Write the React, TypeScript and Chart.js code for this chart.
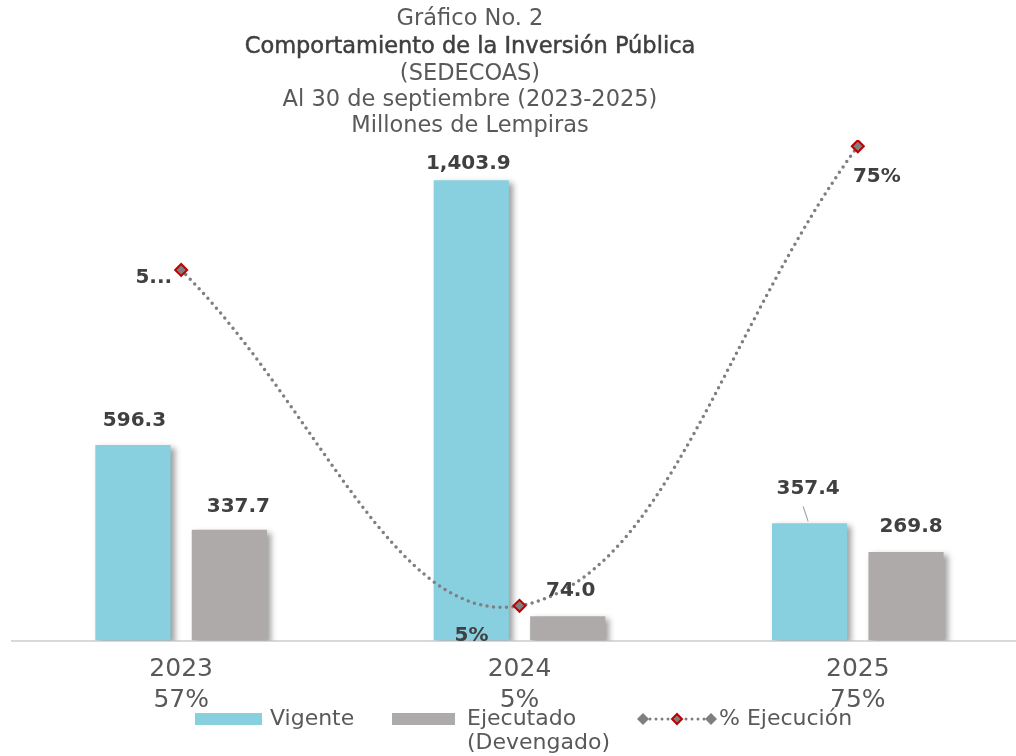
import React, { useEffect, useRef } from 'react';
import { Chart, registerables } from 'chart.js';

Chart.register(...registerables);

// ---------- data ----------
const titleLines = [
  'Gráfico No. 2',
  'Comportamiento de la Inversión Pública',
  '(SEDECOAS)',
  'Al 30 de septiembre (2023-2025)',
  'Millones de Lempiras',
];
const years = ['2023', '2024', '2025'];
const pctTickLabels = ['57%', '5%', '75%'];
const vigente = [596.3, 1403.9, 357.4];
const ejecutado = [337.7, 74.0, 269.8];
const ejecucion = [56.6, 5.3, 75.5];
const ejecucionLabels = ['5...', '5%', '75%'];
const seriesNames = ['Vigente', 'Ejecutado', '(Devengado)', '% Ejecución'];

// ---------- styles ----------
const FONT = '"DejaVu Sans", sans-serif';
const C_VIG = '#88CFDF';
const C_EJE = '#AEAAAA';
const C_LINE = '#7F7F7F';
const C_RED = '#C00000';
const C_TXT = '#595959';
const C_LBL = '#404040';

// label offsets (dx, dy) from bar top / point
const vigOffsets = [[1.5, -24], [-3, -17], [-1.5, -35]];
const ejeOffsets = [[9, -23], [3, -25], [5, -25]];
const lineLblOffsets = [[-9, 8, 'right'], [-48, 30, 'center'], [19, 31, 'center']];

const fmt = (v: number) =>
  v.toLocaleString('en-US', { minimumFractionDigits: 1, maximumFractionDigits: 1 });

const shadowPlugin = {
  id: 'barShadow',
  beforeDatasetDraw(chart: any, args: any) {
    if (args.meta.type !== 'bar') return;
    const ctx = chart.ctx;
    ctx.save();
    ctx.shadowColor = 'rgba(0,0,0,0.38)';
    ctx.shadowBlur = 6;
    ctx.shadowOffsetX = 4;
    ctx.shadowOffsetY = 3;
  },
  afterDatasetDraw(chart: any, args: any) {
    if (args.meta.type !== 'bar') return;
    chart.ctx.restore();
  },
};

function diamond(ctx: CanvasRenderingContext2D, x: number, y: number, r: number, fill: string, stroke?: string) {
  ctx.beginPath();
  ctx.moveTo(x, y - r);
  ctx.lineTo(x + r, y);
  ctx.lineTo(x, y + r);
  ctx.lineTo(x - r, y);
  ctx.closePath();
  ctx.fillStyle = fill;
  ctx.fill();
  if (stroke) {
    ctx.strokeStyle = stroke;
    ctx.lineWidth = 2;
    ctx.stroke();
  }
}

const decorPlugin = {
  id: 'decor',
  afterDatasetsDraw(chart: any) {
    const ctx = chart.ctx as CanvasRenderingContext2D;
    ctx.save();
    ctx.font = `bold 20px ${FONT}`;
    ctx.fillStyle = C_LBL;
    ctx.textBaseline = 'middle';
    ctx.textAlign = 'center';
    const m0 = chart.getDatasetMeta(1);
    const m1 = chart.getDatasetMeta(2);
    m0.data.forEach((b: any, i: number) => {
      ctx.fillText(fmt(vigente[i]), b.x + vigOffsets[i][0], b.y + vigOffsets[i][1]);
    });
    m1.data.forEach((b: any, i: number) => {
      ctx.fillText(fmt(ejecutado[i]), b.x + ejeOffsets[i][0], b.y + ejeOffsets[i][1]);
    });
    // leader line for 2025 Vigente
    const b2 = m0.data[2];
    ctx.beginPath();
    ctx.strokeStyle = '#A6A6A6';
    ctx.lineWidth = 1.2;
    ctx.moveTo(b2.x - 6.5, b2.y - 17);
    ctx.lineTo(b2.x - 1.5, b2.y - 2);
    ctx.stroke();
    // line labels
    const ml = chart.getDatasetMeta(0);
    ml.data.forEach((p: any, i: number) => {
      const o = lineLblOffsets[i] as any;
      ctx.textAlign = o[2];
      ctx.fillStyle = C_LBL;
      ctx.fillText(ejecucionLabels[i], p.x + o[0], p.y + o[1]);
    });
    ctx.restore();
  },
  afterDraw(chart: any) {
    const ctx = chart.ctx as CanvasRenderingContext2D;
    ctx.save();
    // title
    ctx.textAlign = 'center';
    ctx.textBaseline = 'middle';
    const ys = [19, 47, 74, 100, 126];
    titleLines.forEach((t, i) => {
      ctx.font = `22.5px ${FONT}`;
      ctx.fillStyle = i === 1 ? '#3F3F3F' : C_TXT;
      ctx.fillText(t, 470, ys[i]);
      if (i === 1) {
        ctx.strokeStyle = '#3F3F3F';
        ctx.lineWidth = 0.5;
        ctx.strokeText(t, 470, ys[i]);
      }
    });
    // legend
    const ly = 719;
    ctx.textAlign = 'left';
    ctx.font = `22px ${FONT}`;
    ctx.fillStyle = C_VIG;
    ctx.fillRect(195, ly - 6, 67, 12);
    ctx.fillStyle = C_TXT;
    ctx.fillText(seriesNames[0], 270, ly);
    ctx.fillStyle = C_EJE;
    ctx.fillRect(392, ly - 6, 63, 12);
    ctx.fillStyle = C_TXT;
    ctx.fillText(seriesNames[1], 467, ly);
    ctx.fillText(seriesNames[2], 467, ly + 24);
    // line symbol
    ctx.beginPath();
    ctx.setLineDash([0, 6]);
    ctx.lineCap = 'round';
    ctx.lineWidth = 3;
    ctx.strokeStyle = C_LINE;
    ctx.moveTo(644, ly);
    ctx.lineTo(710, ly);
    ctx.stroke();
    ctx.setLineDash([]);
    diamond(ctx, 643, ly, 6, C_LINE);
    diamond(ctx, 677, ly, 5, C_LINE, C_RED);
    diamond(ctx, 711, ly, 6, C_LINE);
    ctx.fillStyle = C_TXT;
    ctx.fillText(seriesNames[3], 719, ly);
    ctx.restore();
  },
};

export default function App() {
  const ref = useRef<HTMLCanvasElement>(null);
  useEffect(() => {
    if (!ref.current) return;
    const chart = new Chart(ref.current, {
      type: 'bar',
      data: {
        labels: years.map((y, i) => [y, pctTickLabels[i]]),
        datasets: [
          {
            type: 'line',
            label: seriesNames[3],
            data: ejecucion,
            yAxisID: 'y1',
            borderColor: C_LINE,
            borderWidth: 3.5,
            borderDash: [0, 6.5],
            borderCapStyle: 'round',
            tension: 0.4,
            pointStyle: 'rectRot',
            pointRadius: 6,
            pointBackgroundColor: C_LINE,
            pointBorderColor: C_RED,
            pointBorderWidth: 2,
            order: 0,
          } as any,
          {
            label: seriesNames[0],
            data: vigente,
            backgroundColor: C_VIG,
            yAxisID: 'y',
            categoryPercentage: 0.57,
            barPercentage: 0.78,
            order: 1,
          },
          {
            label: seriesNames[1],
            data: ejecutado,
            backgroundColor: C_EJE,
            yAxisID: 'y',
            categoryPercentage: 0.57,
            barPercentage: 0.78,
            order: 2,
          },
        ],
      },
      options: {
        responsive: false,
        animation: false,
        devicePixelRatio: 1,
        layout: { padding: { left: 12, right: 13, top: 140, bottom: 27 } },
        plugins: {
          legend: { display: false },
          title: { display: false },
          tooltip: { enabled: false },
        },
        scales: {
          x: {
            grid: { display: false, drawTicks: false },
            border: { display: true, color: '#D9D9D9', width: 2 },
            ticks: {
              color: C_TXT,
              font: { family: FONT, size: 25, lineHeight: 1.25 },
              padding: 13,
              maxRotation: 0,
            },
          },
          y: { display: false, min: 0, max: 1527 },
          y1: { display: false, min: 0, max: 76.45, position: 'right' },
        },
      },
      plugins: [shadowPlugin, decorPlugin],
    });
    return () => chart.destroy();
  }, []);
  return (
    <div
      style={{
        position: 'fixed',
        left: 0,
        top: 0,
        width: 1016,
        height: 756,
        overflow: 'hidden',
        background: '#fff',
      }}
    >
      <canvas ref={ref} width={1040} height={756} style={{ width: 1040, height: 756, display: 'block' }} />
    </div>
  );
}
